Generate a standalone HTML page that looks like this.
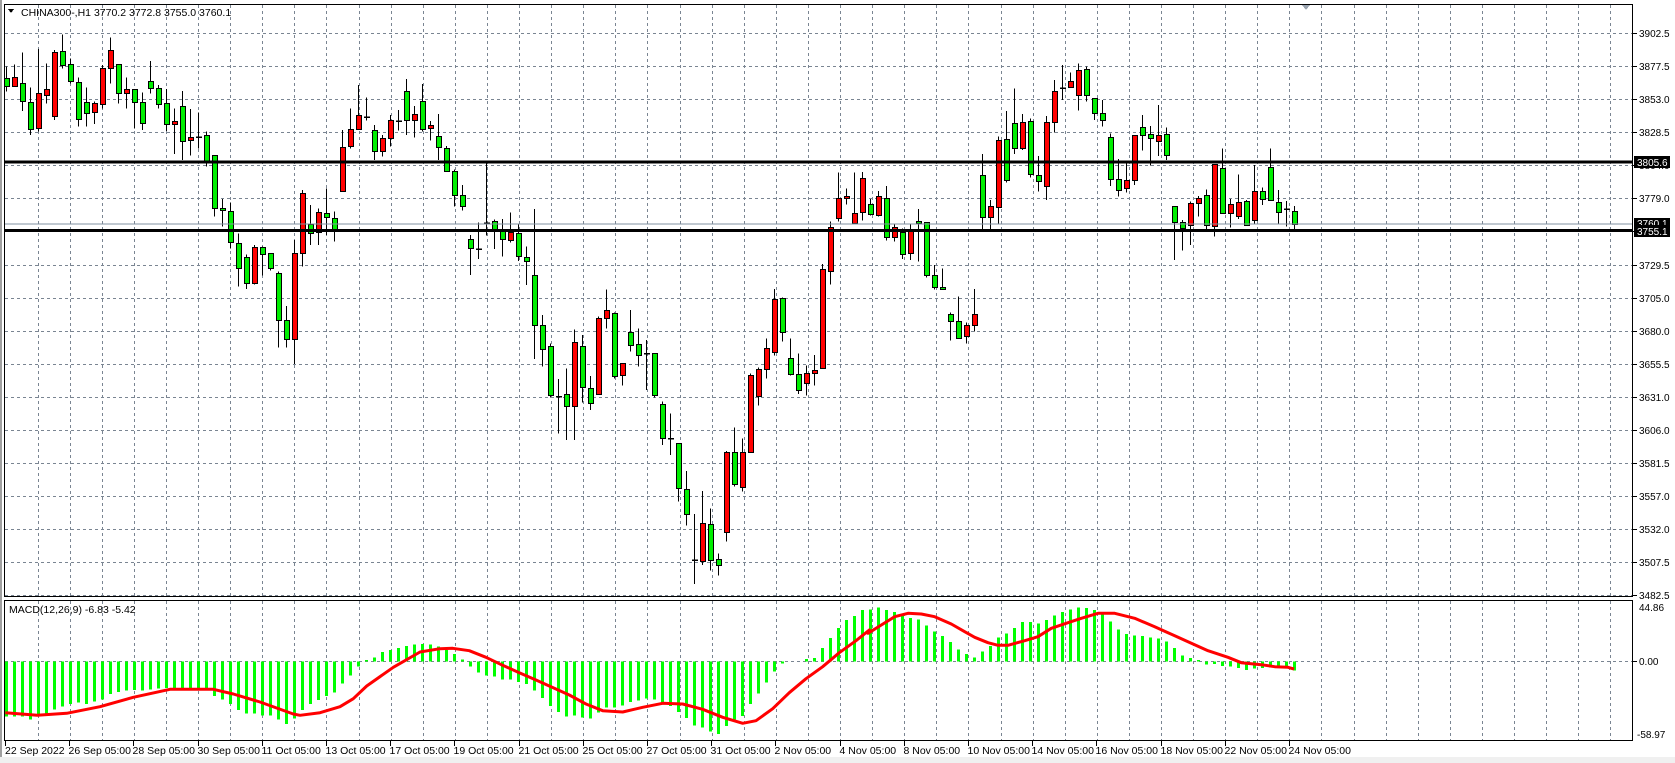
<!DOCTYPE html>
<html><head><meta charset="utf-8"><style>
html,body{margin:0;padding:0;background:#fff;}
svg{display:block;font-family:"Liberation Sans",sans-serif;}
</style></head><body>
<svg id="c" width="1675" height="763" xmlns="http://www.w3.org/2000/svg" shape-rendering="crispEdges"></svg>
<script>
const S=document.getElementById('c');let h='';
h+='<rect x="0" y="0" width="1675" height="763" fill="#fff"/>';
h+='<rect x="0" y="757" width="1675" height="6" fill="#f0f0f0"/>';
h+='<rect x="0" y="0" width="2" height="757" fill="#a0a0a0"/>';
// grids
const dash='stroke="#7a8592" stroke-width="1" stroke-dasharray="3,3"';
for(let k=0;k<18;k++){const y=Math.round(33.3+33.03*k)+.5;h+=`<line x1="5" x2="1632" y1="${y}" y2="${y}" ${dash}/>`;}
for(let x=37.5;x<1632;x+=32.1){const X=Math.round(x)+.5;h+=`<line x1="${X}" x2="${X}" y1="5" y2="596" ${dash}/><line x1="${X}" x2="${X}" y1="601" y2="740" ${dash}/>`;}
h+=`<line x1="5" x2="1632" y1="661.5" y2="661.5" ${dash}/>`;
// price labels
const labs=['3902.5','3877.5','3853.0','3828.5','3804.0','3779.0','3754.5','3729.5','3705.0','3680.0','3655.5','3631.0','3606.0','3581.5','3557.0','3532.0','3507.5','3482.5'];
labs.forEach((l,k)=>{const y=Math.round(33.3+33.03*k);h+=`<line x1="1633" x2="1637" y1="${y+.5}" y2="${y+.5}" stroke="#000"/><text x="1639" y="${y+4}" font-size="10" fill="#000">${l}</text>`;});
// dates
const dates=['26 Sep 05:00','28 Sep 05:00','30 Sep 05:00','11 Oct 05:00','13 Oct 05:00','17 Oct 05:00','19 Oct 05:00','21 Oct 05:00','25 Oct 05:00','27 Oct 05:00','31 Oct 05:00','2 Nov 05:00','4 Nov 05:00','8 Nov 05:00','10 Nov 05:00','14 Nov 05:00','16 Nov 05:00','18 Nov 05:00','22 Nov 05:00','24 Nov 05:00'];
h+=`<line x1="5.5" x2="5.5" y1="741" y2="746" stroke="#000"/><text x="5" y="754" font-size="10.5">22 Sep 2022</text>`;
dates.forEach((d,k)=>{const x=Math.round(69.2+64.2*k)+.5;h+=`<line x1="${x}" x2="${x}" y1="741" y2="746" stroke="#000"/><text x="${x-1}" y="754" font-size="10.5">${d}</text>`;});
// candles
const A=[[125,160,185,200,'G'],[118,157,185,185,'R'],[82,175,230,258,'G'],[187,230,310,330,'G'],[72,205,310,320,'R'],[115,193,212,235,'R'],[75,82,275,285,'R'],[28,79,122,130,'G'],[100,118,170,175,'G'],[157,170,280,305,'G'],[187,230,262,305,'G'],[230,235,263,297,'R'],[120,130,238,250,'R'],[37,76,130,175,'R'],[118,118,205,235,'G'],[157,193,205,250,'R'],[193,193,232,310,'G'],[202,232,295,315,'G'],[108,169,190,205,'G'],[180,190,238,250,'G'],[192,235,298,318,'G'],[250,289,298,387,'R'],[198,243,347,405,'G'],[252,337,347,392,'R'],[263,335,337,370,'D'],[320,330,408,425,'G'],[390,391,550,575,'G'],[522,549,556,605,'G'],[532,559,652,670,'G'],[625,655,730,785,'G'],[688,697,775,792,'G'],[660,667,775,778,'R'],[665,667,688,752,'G'],[685,685,730,737,'G'],[740,745,885,968,'G'],[843,886,943,968,'G'],[645,685,943,1017,'R'],[495,505,685,725,'R'],[540,598,625,660,'G'],[550,562,622,660,'R'],[490,565,578,630,'G']];
const B=[[455,475,508,545,'G'],[210,262,395,395,'R'],[145,208,260,265,'R'],[75,165,208,210,'R'],[112,170,172,182,'D'],[195,211,275,300,'G'],[225,235,275,290,'R'],[165,181,235,260,'R'],[150,181,184,212,'D'],[57,94,181,225,'G'],[138,163,181,232,'R'],[72,124,208,215,'G'],[183,196,206,242,'R'],[162,229,262,300,'G'],[258,265,335,335,'G'],[328,334,406,440,'G'],[375,406,438,452,'G'],[525,538,565,645,'G'],[487,565,567,597,'D'],[308,488,490,527,'D'],[478,484,507,567,'G'],[477,507,538,590,'G'],[457,515,538,548,'R'],[492,520,590,603,'G'],[560,592,604,675,'G'],[447,646,797,897,'G'],[765,796,868,920,'G'],[850,858,1006,1012,'G'],[957,1008,1010,1120,'D'],[925,1003,1040,1140,'G'],[808,845,1036,1140,'R'],[825,858,982,1028,'G'],[948,985,1030,1050,'G'],[770,775,1003,1003,'R'],[688,750,775,805,'R'],[758,760,948,955,'G'],[910,910,946,977,'R'],[750,815,853,875,'G'],[805,853,886,920,'G'],[840,879,881,990,'D'],[880,880,1006,1012,'G']];
const C=[[680,688,790,810,'G'],[715,789,791,840,'D'],[805,805,940,980,'G'],[888,943,1018,1052,'G'],null,null,null,null,[828,832,1072,1100,'R'],[757,832,928,935,'G'],[790,832,937,950,'R'],[595,601,832,832,'R'],[578,583,664,692,'R'],[490,520,583,610,'R'],[342,373,532,542,'R'],[368,370,472,500,'G'],[490,550,598,602,'G'],[535,598,646,657,'G'],[572,595,625,662,'R'],[540,586,596,632,'R'],[267,283,580,580,'R'],[140,155,287,328,'R'],[-8,70,130,140,'R'],[40,64,70,88,'R'],[-7,115,145,137,'R'],[-9,10,112,137,'R'],[72,88,118,122,'G'],[48,64,121,125,'R'],[33,70,187,197,'G'],[145,157,187,200,'R'],[160,172,238,252,'G'],[145,165,235,255,'R'],[102,138,145,260,'G'],[142,142,300,308,'G'],[270,300,337,343,'G'],[280,337,343,344,'G'],[412,418,439,497,'G'],[364,439,490,492,'G'],[442,451,485,505,'R'],[342,418,451,470,'R']];
const C8=[[252,388,393,462,'D'],[183,280,395,405,'R'],[235,283,392,422,'G'],[370,388,407,437,'G']];
const D=[[312,376,502,540,'G'],[450,468,500,540,'R'],[260,270,472,520,'R'],[183,268,392,398,'G'],[115,220,295,312,'G'],[192,217,296,300,'R'],[205,213,373,383,'G'],[318,376,395,425,'G'],[198,217,410,450,'R'],[90,124,217,247,'R'],[45,112,116,150,'D'],[67,93,112,113,'R'],[40,61,137,182,'R'],[50,58,137,155,'G'],[145,145,190,210,'G'],[150,190,210,230,'G'],[250,262,388,408,'G'],[327,388,422,440,'G'],[340,390,413,428,'R'],[255,256,390,405,'R'],[195,232,256,302,'G'],[228,253,265,347,'G'],[165,256,275,318,'R'],[232,253,316,330,'G'],[468,468,515,630,'G'],[510,515,532,602,'G'],[455,460,527,585,'R'],[438,445,460,500,'R'],[418,436,527,537,'G'],[342,342,527,560,'R'],[295,355,490,490,'G'],[447,463,490,533,'R'],[373,455,498,507,'R'],[450,452,523,523,'G'],[345,422,510,520,'R'],[412,422,445,465,'G'],[295,352,452,452,'G'],[420,455,485,520,'G'],[453,475,478,530,'D'],[468,482,520,538,'G']];
const all=[];
A.forEach(c=>all.push([c,25]));B.forEach(c=>all.push([c,60]));
C.forEach((c,j)=>{if(c)all.push([c,175]);else all.push([C8[j-4],430]);});
D.forEach(c=>all.push([c,50]));
all.forEach(([c,oy],i)=>{const cx=6+8*i+.5;const f=v=>oy+v/3;
 let wt=f(c[0]),bt=f(c[1]),bb=f(c[2]),wb=Math.max(f(c[3]),f(c[2]));
 h+=`<line x1="${cx}" x2="${cx}" y1="${wt.toFixed(1)}" y2="${wb.toFixed(1)}" stroke="#000" stroke-width="1"/>`;
 if(c[4]==='D'){h+=`<rect x="${cx-2.5}" y="${(bt).toFixed(1)}" width="6" height="1.5" fill="#000"/>`;}
 else{const col=c[4]==='G'?'#00ee00':'#ff0000';h+=`<rect x="${cx-2}" y="${(Math.round(bt)+.5)}" width="5" height="${Math.max(1,Math.round(bb-bt))}" fill="${col}" stroke="#000" stroke-width="1"/>`;}
});
// horizontal levels
h+='<line x1="5" x2="1633" y1="224" y2="224" stroke="#8090a0" stroke-width="1"/>';
h+='<rect x="5" y="160.5" width="1628" height="3" fill="#000"/>';
h+='<rect x="5" y="229" width="1628" height="3" fill="#000"/>';
h+='<rect x="1634" y="218" width="36" height="11" fill="#000"/><text x="1637" y="227" font-size="10" fill="#fff">3760.1</text>';
h+='<rect x="1634" y="225" width="36" height="12" fill="#000"/><text x="1637" y="235" font-size="10" fill="#fff">3755.1</text>';
h+='<rect x="1634" y="156" width="36" height="12" fill="#000"/><text x="1637" y="166" font-size="10" fill="#fff">3805.6</text>';
// MACD histogram
const H10=[350,350,350,358,350,342,328,320,312,308,312,304,298,282,276,272,270,272,268,266,264,268,266,266,266,268,288,298,312,330,340,340,346,346,358,372,356,330,312,300,288,278,250,226,200,180,172,156,150,144,138,134,132,134];
const H11=[140,150,162,178,200,218,226,230,238,238,246,252,272,294,318,336,350,346,352,356,338,322,322,316,306,302,296,298,308,318,336,354,376,382,394,402,378,358,348,312,280,248,214,190,186,186,177,174,144,114,84,60,48,30];
const H12=[28,22,30,36,42,54,58,76,94,108,126,148,162,172,154,138,112,100,84,66,66,70,60,46,36,28,22,24,30,44,64,88,102,106,108,112,116,124,144,166,174,180,194,192,198,200,204,210,206,204,202,202,204,212];
const hist=H10.concat(H11).concat(H12);
hist.forEach((v,i)=>{const cx=6+8*i;const y=600+v/3;const z=661.5;const t=Math.min(y,z),b=Math.max(y,z);if(b-t<0.6)return;h+=`<rect x="${cx-1}" y="${t.toFixed(1)}" width="3" height="${(b-t).toFixed(1)}" fill="#00ff00"/>`;});
// signal
const s10=[[16,338],[112,346],[200,340],[300,320],[400,292],[510,268],[640,268],[700,282],[780,306],[880,342],[900,346],[960,338],[1020,320],[1060,296],[1100,258],[1180,202],[1260,156],[1320,146]];
const s11=[[50,145],[100,152],[150,172],[200,196],[250,218],[300,240],[340,258],[400,285],[450,312],[500,332],[560,336],[620,322],[680,310],[740,312],[800,328],[860,352],[920,370],[960,362],[1010,326],[1060,278],[1110,236],[1160,200],[1210,158],[1260,122],[1300,90]];
const s12=[[0,100],[40,75],[80,50],[120,40],[160,42],[200,50],[250,72],[290,95],[320,112],[360,128],[390,136],[420,136],[470,122],[510,110],[550,85],[600,68],[640,55],[690,40],[740,40],[800,55],[860,80],[900,98],[960,125],[1020,152],[1080,172],[1120,188],[1180,194],[1220,200],[1260,202],[1278,207]];
const pts=[];s10.forEach(p=>pts.push([p[0]/3,600+p[1]/3]));s11.forEach(p=>pts.push([436+p[0]/3,600+p[1]/3]));s12.forEach(p=>pts.push([868+p[0]/3,600+p[1]/3]));
h+=`<polyline points="${pts.map(p=>p[0].toFixed(1)+','+p[1].toFixed(1)).join(' ')}" fill="none" stroke="#ff0000" stroke-width="3" stroke-linejoin="round" shape-rendering="auto"/>`;
// frames
h+='<rect x="4.5" y="4.5" width="1628" height="592" fill="none" stroke="#000"/>';
h+='<rect x="4.5" y="600.5" width="1628" height="140" fill="none" stroke="#000"/>';
h+='<text x="1639" y="611" font-size="10">44.86</text><text x="1639" y="665" font-size="10">0.00</text><text x="1637" y="738" font-size="10">-58.97</text>';
h+='<line x1="1633" x2="1637" y1="661.5" y2="661.5" stroke="#000"/>';
h+='<text x="9" y="613" font-size="10.5">MACD(12,26,9) -6.83 -5.42</text>';
h+='<path d="M8,9 L14,9 L11,13 Z" fill="#000"/><text x="21" y="16" font-size="10.5">CHINA300-,H1  3770.2 3772.8 3755.0 3760.1</text>';
h+='<path d="M1302,5 L1310,5 L1306,10 Z" fill="#9aa4b0"/>';
S.innerHTML=h;
</script>
</body></html>
